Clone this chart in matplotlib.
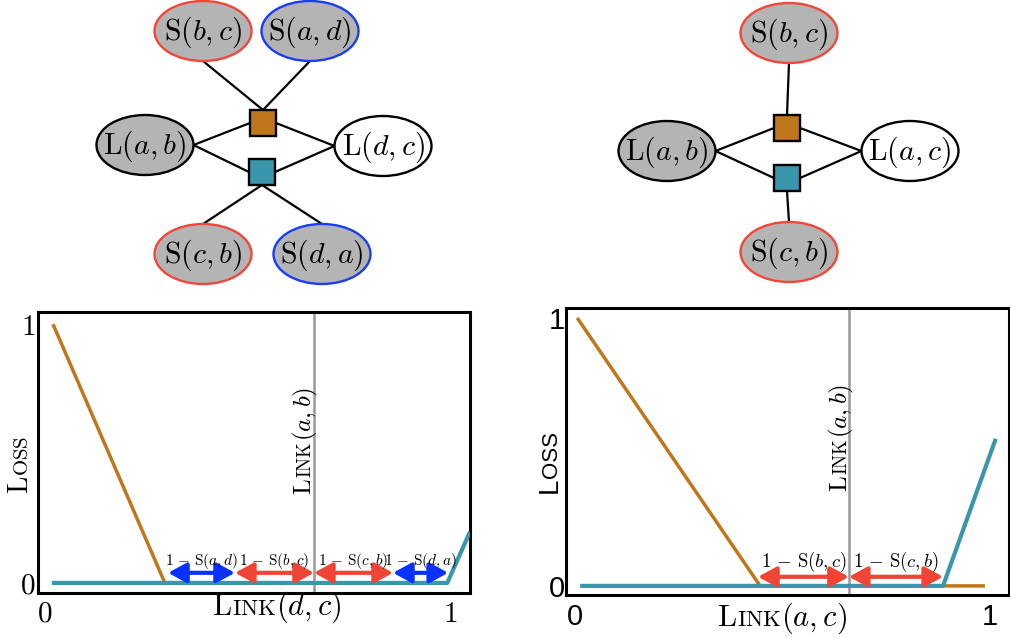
import matplotlib
matplotlib.use("Agg")
import matplotlib.pyplot as plt
from matplotlib.patches import Ellipse, Rectangle

plt.rcParams["mathtext.fontset"] = "cm"

ORANGE = "#C0761A"
TEAL = "#3A96AC"
NODE_GRAY = "#B4B4B4"
RED = "#F0473A"
BLUE = "#1A3CF5"
ARROW_RED = "#F04535"
ARROW_BLUE = "#0A32FF"
LINE_GRAY = "#999999"

# ---- data: left panel, loss as a function of Link(d,c) ----
left_orange_x = [0.02, 0.296, 0.993]
left_orange_y = [1.0, 0.0, 0.0]
left_teal_x = [0.017, 0.993, 1.049]
left_teal_y = [0.0, 0.0, 0.198]
left_link_ab = 0.664
left_arrow_edges = [0.304, 0.469, 0.664, 0.859, 0.995]
left_arrow_pairs = ["a,d", "b,c", "c,b", "d,a"]
left_arrow_colors = [ARROW_BLUE, ARROW_RED, ARROW_RED, ARROW_BLUE]

# ---- data: right panel, loss as a function of Link(a,c) ----
right_orange_x = [0.005, 0.446, 0.988]
right_orange_y = [1.0, 0.0, 0.0]
right_teal_x = [0.012, 0.887, 1.014]
right_teal_y = [0.0, 0.0, 0.549]
right_link_ab = 0.66
right_arrow_edges = [0.441, 0.66, 0.887]
right_arrow_pairs = ["b,c", "c,b"]
right_arrow_colors = [ARROW_RED, ARROW_RED]

# ---- factor graphs (pixel layout of the top row) ----
left_nodes = {
    "Sbc": (203, 31, r"$\mathrm{S}(b,c)$", NODE_GRAY, RED),
    "Sad": (310, 31, r"$\mathrm{S}(a,d)$", NODE_GRAY, BLUE),
    "Lab": (145, 145, r"$\mathrm{L}(a,b)$", NODE_GRAY, "black"),
    "Ldc": (383, 146, r"$\mathrm{L}(d,c)$", "white", "black"),
    "Scb": (203, 254, r"$\mathrm{S}(c,b)$", NODE_GRAY, RED),
    "Sda": (322, 254, r"$\mathrm{S}(d,a)$", NODE_GRAY, BLUE),
}
left_factors = {"fo": (263, 123, ORANGE), "ft": (262, 172, TEAL)}
left_edges = [("Sbc", "s", "fo", "n"), ("Sad", "s", "fo", "n"),
              ("Lab", "e", "fo", "w"), ("Lab", "e", "ft", "w"),
              ("fo", "e", "Ldc", "w"), ("ft", "e", "Ldc", "w"),
              ("ft", "s", "Scb", "n"), ("ft", "s", "Sda", "n")]

right_nodes = {
    "Sbc": (789, 33, r"$\mathrm{S}(b,c)$", NODE_GRAY, RED),
    "Lab": (667, 151, r"$\mathrm{L}(a,b)$", NODE_GRAY, "black"),
    "Lac": (910, 151, r"$\mathrm{L}(a,c)$", "white", "black"),
    "Scb": (789, 252, r"$\mathrm{S}(c,b)$", NODE_GRAY, RED),
}
right_factors = {"fo": (787, 128, ORANGE), "ft": (787, 178, TEAL)}
right_edges = [("Sbc", "s", "fo", "n"),
               ("Lab", "e", "fo", "w"), ("Lab", "e", "ft", "w"),
               ("fo", "e", "Lac", "w"), ("ft", "e", "Lac", "w"),
               ("ft", "s", "Scb", "n")]

ELL_W, ELL_H = 97, 60
SQ = 26


def port(nodes, factors, name, side):
    if name in nodes:
        cx, cy = nodes[name][:2]
        hw, hh = ELL_W / 2, ELL_H / 2
    else:
        cx, cy = factors[name][:2]
        hw = hh = SQ / 2
    dx, dy = {"n": (0, -hh), "s": (0, hh), "e": (hw, 0), "w": (-hw, 0)}[side]
    return cx + dx, cy + dy


def draw_graph(ax, nodes, factors, edges):
    for a, sa, b, sb in edges:
        x0, y0 = port(nodes, factors, a, sa)
        x1, y1 = port(nodes, factors, b, sb)
        ax.plot([x0, x1], [y0, y1], color="black", lw=1.6, zorder=1)
    for cx, cy, label, fill, edge in nodes.values():
        ax.add_patch(Ellipse((cx, cy), ELL_W, ELL_H, facecolor=fill,
                             edgecolor=edge, lw=1.7, zorder=2))
        ax.text(cx, cy + 1, label, fontsize=21.5, ha="center", va="center", zorder=3)
    for cx, cy, color in factors.values():
        ax.add_patch(Rectangle((cx - SQ / 2, cy - SQ / 2), SQ, SQ,
                               facecolor=color, edgecolor="black", lw=1.7, zorder=2))


def small_caps(ax, x, y, pieces, rotation=0):
    """Lay text pieces end to end on one baseline, centred on (x, y) in pixels."""
    renderer = ax.figure.canvas.get_renderer()
    texts = []
    for s, size, fam in pieces:
        texts.append(ax.text(0, 0, s, fontsize=size, family=fam, rotation=rotation,
                             rotation_mode="anchor", ha="left", va="baseline"))
    lengths = []
    for t in texts:
        bb = t.get_window_extent(renderer)
        lengths.append(bb.width if rotation == 0 else bb.height)
    pos = -sum(lengths) / 2
    for t, n in zip(texts, lengths):
        if rotation == 0:
            t.set_position((x + pos, y))
        else:
            t.set_position((x, y - pos))
        pos += n


def draw_loss(ax, ox, oy, tx, ty, link_ab, edges, pairs, colors, label_size, arrow_y, label_y):
    ax.plot(ox, oy, color=ORANGE, lw=2.5, solid_capstyle="butt", zorder=2)
    ax.plot(tx, ty, color=TEAL, lw=3.0, solid_capstyle="butt", zorder=3)
    ax.axvline(link_ab, color=LINE_GRAY, lw=1.8, zorder=1)
    for x0, x1, pair, c in zip(edges[:-1], edges[1:], pairs, colors):
        ax.annotate("", xy=(x1, arrow_y), xytext=(x0, arrow_y),
                    arrowprops=dict(arrowstyle="<|-|>,head_length=0.55,head_width=0.3",
                                    mutation_scale=20, color=c, lw=3.0,
                                    shrinkA=0, shrinkB=0), zorder=4)
        ax.text((x0 + x1) / 2, label_y, r"$1\,-\,\mathrm{S}(%s)$" % pair,
                fontsize=label_size, ha="center", va="baseline", zorder=5)
    ax.set_xticks([0, 1])
    ax.set_yticks([0, 1])
    for s in ax.spines.values():
        s.set_linewidth(2.2)
    ax.tick_params(length=0)


fig = plt.figure(figsize=(10.1, 6.38), dpi=100)

axL = fig.add_axes([38 / 1010, 1 - 593 / 638, 432 / 1010, 281 / 638])
draw_loss(axL, left_orange_x, left_orange_y, left_teal_x, left_teal_y, left_link_ab,
          left_arrow_edges, left_arrow_pairs, left_arrow_colors, 11, 0.039, 0.07)
axL.set_xlim(-0.017, 1.049)
axL.set_ylim(-0.039, 1.047)
axL.set_xticklabels([r"$0$", r"$1$"], fontsize=21)
axL.set_yticklabels([r"$0$", r"$1$"], fontsize=21)
axL.tick_params(axis="x", pad=5)
axL.tick_params(axis="y", pad=2)

axR = fig.add_axes([566 / 1010, 1 - 595 / 638, 443 / 1010, 287 / 638])
draw_loss(axR, right_orange_x, right_orange_y, right_teal_x, right_teal_y, right_link_ab,
          right_arrow_edges, right_arrow_pairs, right_arrow_colors, 13.5, 0.034, 0.071)
axR.set_xlim(-0.022, 1.046)
axR.set_ylim(-0.034, 1.037)
axR.set_xticklabels(["0", "1"], fontsize=21, family="Liberation Sans")
axR.set_yticklabels(["0", "1"], fontsize=21, family="Liberation Sans")
axR.tick_params(axis="x", pad=6)
axR.tick_params(axis="y", pad=1)

# overlay in pixel coordinates for the graphs and small-caps labels
top = fig.add_axes([0, 0, 1, 1])
top.set_xlim(0, 1010)
top.set_ylim(638, 0)
top.axis("off")
top.set_zorder(5)

draw_graph(top, left_nodes, left_factors, left_edges)
draw_graph(top, right_nodes, right_factors, right_edges)

small_caps(top, 277, 615, [(r"$\mathrm{L}$", 22, None), (r"$\mathrm{INK}$", 16.5, None),
                           (r"$(d,c)$", 22, None)])
small_caps(top, 782, 626, [(r"$\mathrm{L}$", 22, None), (r"$\mathrm{INK}$", 16.5, None),
                           (r"$(a,c)$", 22, None)])
small_caps(top, 311, 441, [(r"$\mathrm{L}$", 18, None), (r"$\mathrm{INK}$", 13.5, None),
                           (r"$(a,b)$", 18, None)], rotation=90)
small_caps(top, 847, 438, [(r"$\mathrm{L}$", 18, None), (r"$\mathrm{INK}$", 13.5, None),
                           (r"$(a,b)$", 18, None)], rotation=90)
small_caps(top, 28, 465, [(r"$\mathrm{L}$", 20, None), (r"$\mathrm{OSS}$", 15, None)],
           rotation=90)
small_caps(top, 557, 462, [("L", 20, "Liberation Sans"), ("OSS", 16, "Liberation Sans")],
           rotation=90)

fig.savefig("out.png", dpi=100)
